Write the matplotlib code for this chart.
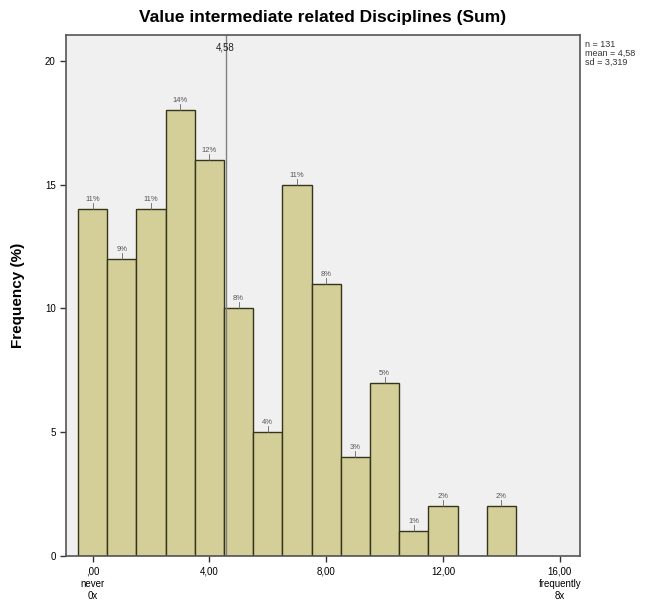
import matplotlib
matplotlib.use("Agg")
import matplotlib.pyplot as plt

plt.rcParams["font.family"] = ["Liberation Sans", "DejaVu Sans"]

# Daten aus dem Histogramm (Summe 0..14)
values = [0, 1, 2, 3, 4, 5, 6, 7, 8, 9, 10, 11, 12, 13, 14]
counts = [14, 12, 14, 18, 16, 10, 5, 15, 11, 4, 7, 1, 2, 0, 2]
pct_labels = ["11%", "9%", "11%", "14%", "12%", "8%", "4%", "11%", "8%",
              "3%", "5%", "1%", "2%", "", "2%"]
mean_val = 4.58
stats_text = "n = 131\nmean = 4,58\nsd = 3,319"
xtick_pos = [0, 4, 8, 12, 16]
xtick_labels = [",00\nnever\n0x", "4,00", "8,00", "12,00", "16,00\nfrequently\n8x"]
ytick_pos = [0, 5, 10, 15, 20]

fig = plt.figure(figsize=(6.59, 6.16), dpi=100)
ax = fig.add_axes([0.1002, 0.0974, 0.7798, 0.8458])
ax.set_facecolor("#f0f0f0")

ax.bar(values, counts, width=1.0, color="#d4cf98", edgecolor="#35351c", linewidth=1.0)

# Prozentlabels mit kleinem Strich
for x, c, lab in zip(values, counts, pct_labels):
    if lab:
        ax.plot([x, x], [c, c + 0.25], color="#666666", linewidth=0.6)
        ax.text(x, c + 0.25, lab, ha="center", va="bottom", fontsize=5.5, color="#555555")

# Mittelwertlinie
ax.axvline(mean_val, color="#808080", linewidth=1.0)
ax.text(mean_val - 0.05, 20.55, "4,58", ha="center", va="center", fontsize=7, color="#222222")

ax.set_xlim(-0.91, 16.69)
ax.set_ylim(0, 21.05)
ax.set_xticks(xtick_pos)
ax.set_xticklabels(xtick_labels, fontsize=7, linespacing=1.3)
ax.set_yticks(ytick_pos)
ax.set_yticklabels([str(v) for v in ytick_pos], fontsize=7)
ax.tick_params(length=4, width=1, color="#333333")

for s in ax.spines.values():
    s.set_color("#555555")
    s.set_linewidth(1.2)

ax.set_ylabel("Frequency (%)", fontsize=11, fontweight="bold", labelpad=14)
ax.set_title("Value intermediate related Disciplines (Sum)", fontsize=12.5, fontweight="bold", pad=9)

fig.text(0.887, 0.935, stats_text, ha="left", va="top", fontsize=6.5, color="#333333", linespacing=1.0)

fig.savefig("out.png", dpi=100)
